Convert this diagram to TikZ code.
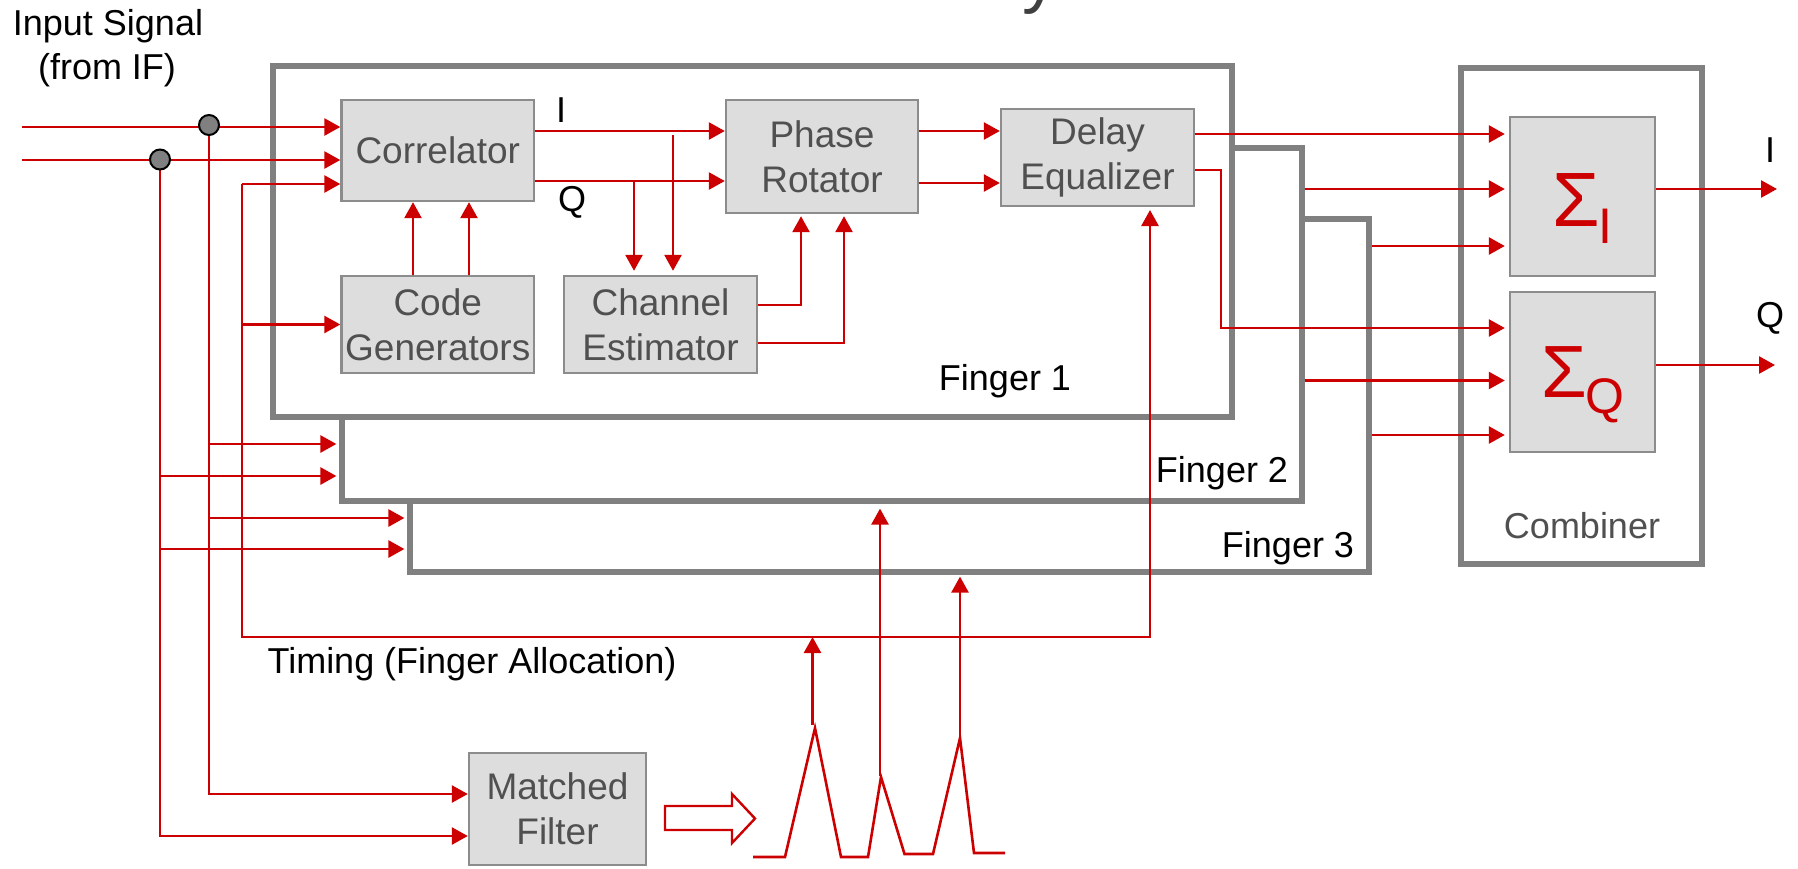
\documentclass[tikz,border=0pt]{standalone}
\usepackage{fontspec}
\setmainfont{Liberation Sans}
\usetikzlibrary{arrows.meta,calc}
\definecolor{myred}{HTML}{CC0000}
\definecolor{fgray}{HTML}{808080}
\definecolor{bborder}{HTML}{8C8C8C}
\definecolor{bfill}{HTML}{DDDDDD}
\definecolor{btext}{HTML}{505050}
\definecolor{ttext}{HTML}{404040}
\tikzset{
  redln/.style={draw=myred, line width=1.3pt},
  arr/.style={redln, -{Triangle[length=8pt,width=8.5pt]}},
  finger/.style={draw=fgray, line width=2.6pt, fill=white, inner sep=0pt},
  blk/.style={draw=bborder, fill=bfill, line width=1.2pt, text=btext, align=center, inner sep=0pt,
    font=\fontsize{18.5pt}{22.5pt}\selectfont},
  lbl/.style={anchor=base, inner sep=0pt, text=black, font=\fontsize{18pt}{22pt}\selectfont},
  junc/.style={circle, draw=black, fill=fgray, line width=1pt, minimum size=10pt, inner sep=0pt},
  sig/.style={anchor=base west, inner sep=0pt, text=myred},
}
\begin{document}
\begin{tikzpicture}[x=0.5pt,y=-0.5pt]
\useasboundingbox (0,0) rectangle (1798,868);

% title fragment
\node[anchor=base west, inner sep=0pt, text=ttext, font=\fontsize{36pt}{36pt}\selectfont] (ttl) at (1022,-1) {y};

% finger boxes and combiner
\node[finger, minimum width=479.5pt, minimum height=176.5pt] (f3) at (889.5,395.5) {};
\node[finger, minimum width=480pt, minimum height=176.5pt] (f2) at (822,324.5) {};
\node[finger, minimum width=479.5pt, minimum height=175.5pt] (f1) at (752.5,241.5) {};
\node[finger, minimum width=120.5pt, minimum height=248pt] (comb) at (1581.5,316) {};

% blocks
\node[blk, minimum width=96.25pt, minimum height=50.5pt] (corr) at (437.75,150.5) {Correlator};
\node[blk, minimum width=96.25pt, minimum height=48.5pt] (cg) at (437.75,324.5) {Code\\Generators};
\node[blk, minimum width=96.5pt, minimum height=48.5pt] (ce) at (660.5,324.5) {Channel\\Estimator};
\node[blk, minimum width=96pt, minimum height=56.5pt] (pr) at (822,156.5) {Phase\\Rotator};
\node[blk, minimum width=96.5pt, minimum height=48.5pt] (de) at (1097.5,157.5) {Delay\\Equalizer};
\node[blk, minimum width=72.5pt, minimum height=79.5pt] (sI) at (1582.5,196.5) {};
\node[blk, minimum width=72.5pt, minimum height=80pt] (sQ) at (1582.5,372) {};
\node[blk, minimum width=88.5pt, minimum height=56pt] (mf) at (557.5,809) {Matched\\Filter};

% sigma labels
\node[sig, font=\fontsize{38.5pt}{38.5pt}\selectfont] (sIa) at (1552,226) {Σ};
\node[sig, font=\fontsize{25pt}{25pt}\selectfont] (sIb) at (1598,243) {I};
\node[sig, font=\fontsize{37pt}{37pt}\selectfont] (sQa) at (1541,397) {Σ};
\node[sig, font=\fontsize{25pt}{25pt}\selectfont] (sQb) at (1585,413) {Q};

% helper coordinates
\coordinate (f2w) at ([xshift=-1.5pt]f2.west);
\coordinate (f3w) at ([xshift=-1.5pt]f3.west);
\coordinate (sIw) at ([xshift=-2pt]sI.west);
\coordinate (sQw) at ([xshift=-2pt]sQ.west);
\coordinate (cen) at ([yshift=2pt]ce.north);
\coordinate (prs) at ([yshift=-1pt]pr.south);

% inputs
\coordinate (in1) at (22,127);
\coordinate (in2) at (22,160);
\draw[arr] (in1) -- (in1 -| corr.west);
\draw[arr] (in2) -- (in2 -| corr.west);

% timing line
\coordinate (tc) at (242,184);
\coordinate (tb) at (242,637);
\coordinate (deIn) at (1150,210);
\draw[arr] (tc) -- (tc -| corr.west);
\draw[arr] (tc |- cg.west) -- (cg.west);
\draw[arr] (tc) -- (tb) -| (deIn);

% code generators -> correlator
\coordinate (g1) at (413,250);
\coordinate (g2) at (469,250);
\draw[arr] (g1 |- cg.north) -- (g1 |- corr.south);
\draw[arr] (g2 |- cg.north) -- (g2 |- corr.south);

% I / Q from correlator
\coordinate (yI) at (600,131);
\coordinate (yQ) at (600,181);
\draw[arr] (corr.east |- yI) -- (pr.west |- yI);
\draw[arr] (corr.east |- yQ) -- (pr.west |- yQ);
\coordinate (dq) at (634,181);
\coordinate (di) at (673,135);
\draw[arr] (dq) -- (dq |- cen);
\draw[arr] (di) -- (di |- cen);

% channel estimator -> phase rotator
\coordinate (c1) at (801,305);
\coordinate (c2) at (844,343);
\draw[arr] (ce.east |- c1) -| (c1 |- prs);
\draw[arr] (ce.east |- c2) -| (c2 |- prs);

% phase rotator -> delay equalizer
\coordinate (yP1) at (960,131);
\coordinate (yP2) at (960,183);
\draw[arr] (pr.east |- yP1) -- (de.west |- yP1);
\draw[arr] (pr.east |- yP2) -- (de.west |- yP2);

% to combiner
\coordinate (yA) at (1400,134);
\coordinate (yB) at (1400,189);
\coordinate (yC) at (1400,246);
\coordinate (yD) at (1200,170);
\coordinate (xD) at (1221,300);
\coordinate (yE) at (1400,328);
\coordinate (yF) at (1400,380.5);
\coordinate (yG) at (1400,435);
\draw[arr] (de.east |- yA) -- (sIw |- yA);
\draw[arr] (f2.east |- yB) -- (sIw |- yB);
\draw[arr] (f3.east |- yC) -- (sIw |- yC);
\draw[arr] (de.east |- yD) -| (xD |- yE) -- (sQw |- yE);
\draw[arr] (f2.east |- yF) -- (sQw |- yF);
\draw[arr] (f3.east |- yG) -- (sQw |- yG);

% outputs
\coordinate (oI) at (1777,189);
\coordinate (oQ) at (1775,365);
\draw[arr] (sI.east |- oI) -- (oI);
\draw[arr] (sQ.east |- oQ) -- (oQ);

% left distribution
\coordinate (j1c) at (209,125);
\coordinate (j2c) at (160,159.5);
\coordinate (j1b) at (209,794);
\coordinate (j2b) at (160,836);
\coordinate (b1) at (209,444);
\coordinate (b2) at (160,476);
\coordinate (b3) at (209,518);
\coordinate (b4) at (160,549);
\draw[arr] (j1c) |- (j1b -| mf.west);
\draw[arr] (j2c) |- (j2b -| mf.west);
\draw[arr] (b1) -- (b1 -| f2w);
\draw[arr] (b2) -- (b2 -| f2w);
\draw[arr] (b3) -- (b3 -| f3w);
\draw[arr] (b4) -- (b4 -| f3w);
\node[junc] (j1) at (j1c) {};
\node[junc] (j2) at (j2c) {};

% matched filter output (hollow arrow)
\draw[myred, line width=1.2pt, fill=white, line join=miter]
  (665,806) -- (732,806) -- (732,794) -- (755,818.5) -- (732,843) -- (732,830) -- (665,830) -- cycle;

% multipath profile
\coordinate (w0) at (753,857);
\coordinate (w1) at (785,857);
\coordinate (p1) at (815,728);
\coordinate (w2) at (841,857);
\coordinate (w3) at (868,857);
\coordinate (p2) at (881,777);
\coordinate (w4) at (904.5,854);
\coordinate (w5) at (933,854);
\coordinate (p3) at (960,738);
\coordinate (w6) at (974,853);
\coordinate (w7) at (1005,853);
\draw[redln, line join=miter] (w0) -- (w1) -- (p1) -- (w2) -- (w3) -- (p2) -- (w4) -- (w5) -- (p3) -- (w6) -- (w7);

\coordinate (a1) at (812.5,725);
\coordinate (a2) at (880,776);
\coordinate (a3) at (960,738);
\coordinate (f2b) at ([yshift=-2.5pt]f2.south);
\coordinate (f3b) at ([yshift=-1pt]f3.south);
\draw[arr] (a1) -- (a1 |- tb);
\draw[arr] (a2) -- (a2 |- f2b);
\draw[arr] (a3) -- (a3 |- f3b);

% labels
\node[lbl] (lin1) at (108,35) {Input Signal};
\node[lbl] (lin2) at (107,79) {(from IF)};
\node[lbl] (lI) at (561,122) {I};
\node[lbl] (lQ) at (572,211) {Q};
\node[lbl] (lf1) at (1005,390) {Finger 1};
\node[lbl] (lf2) at (1222,482) {Finger 2};
\node[lbl] (lf3) at (1288,557) {Finger 3};
\node[lbl, text=btext] (lcomb) at (1582,538) {Combiner};
\node[lbl] (loI) at (1770,162) {I};
\node[lbl] (loQ) at (1770,327) {Q};
\node[lbl] (ltim) at (472,673) {Timing (Finger Allocation)};
\end{tikzpicture}
\end{document}
